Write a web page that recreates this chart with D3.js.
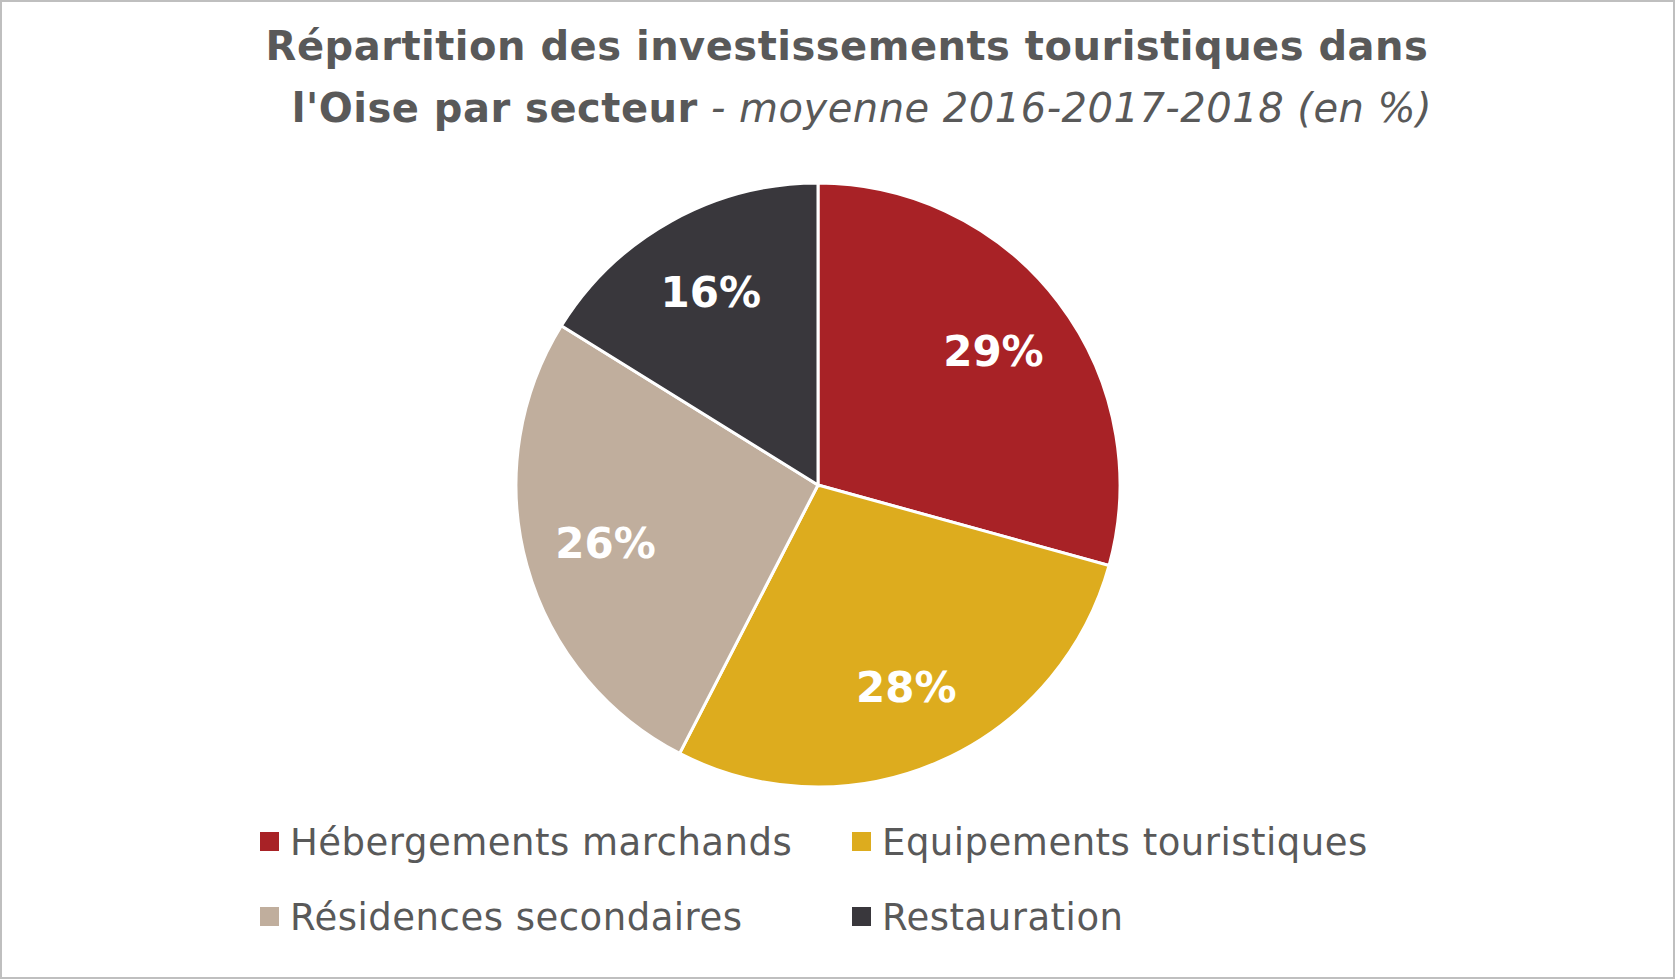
<!DOCTYPE html>
<html><head><meta charset="utf-8">
<script src="https://cdn.jsdelivr.net/npm/d3@7"></script>
<style>body{margin:0;background:#fff}</style></head>
<body><svg id="c" width="1675" height="979"></svg>
<script>
const categories=["Hébergements marchands","Equipements touristiques","Résidences secondaires","Restauration"];
const values=[29,28,26,16];
const colors=["#A82226","#DDAC1E","#C0AE9D","#39373C"];
const svg=d3.select("#c");
svg.append("rect").attr("x",1).attr("y",1).attr("width",1673).attr("height",977).attr("fill","#fff").attr("stroke","#BFBFBF").attr("stroke-width",2);
const F="'DejaVu Sans', sans-serif";
const t=svg.append("text").attr("text-anchor","middle").attr("font-family",F).attr("fill","#595959").attr("font-size",40).attr("letter-spacing",0.5);
t.append("tspan").attr("x",847).attr("y",60).attr("font-weight","bold").text("Répartition des investissements touristiques dans");
const l2=t.append("tspan").attr("x",862).attr("y",122);
l2.append("tspan").attr("font-weight","bold").text("l'Oise par secteur");
l2.append("tspan").attr("font-style","italic").text(" - moyenne 2016-2017-2018 (en %)");
const cx=818,cy=485,r=302;
const g=svg.append("g").attr("transform",`translate(${cx},${cy})`);
const pie=d3.pie().sort(null)(values);
const arc=d3.arc().innerRadius(0).outerRadius(r);
const la=d3.arc().innerRadius(r*0.73).outerRadius(r*0.73);
g.selectAll("path").data(pie).join("path").attr("d",arc).attr("fill",(d,i)=>colors[i]).attr("stroke","#fff").attr("stroke-width",3);
g.selectAll("text").data(pie).join("text").attr("transform",d=>`translate(${la.centroid(d)})`)
 .attr("text-anchor","middle").attr("dy","0.35em").attr("fill","#fff").attr("font-family",F).attr("font-weight","bold").attr("font-size",42)
 .text(d=>d.data+"%");
const pos=[[260,842],[852,842],[260,917],[852,917]];
categories.forEach((c,i)=>{
 svg.append("rect").attr("x",pos[i][0]).attr("y",pos[i][1]-10).attr("width",19).attr("height",19).attr("fill",colors[i]);
 svg.append("text").attr("x",pos[i][0]+30).attr("y",pos[i][1]).attr("dy","0.35em").attr("font-family",F).attr("font-size",37).attr("letter-spacing",0.5).attr("fill","#595959").text(c);
});
</script></body></html>
